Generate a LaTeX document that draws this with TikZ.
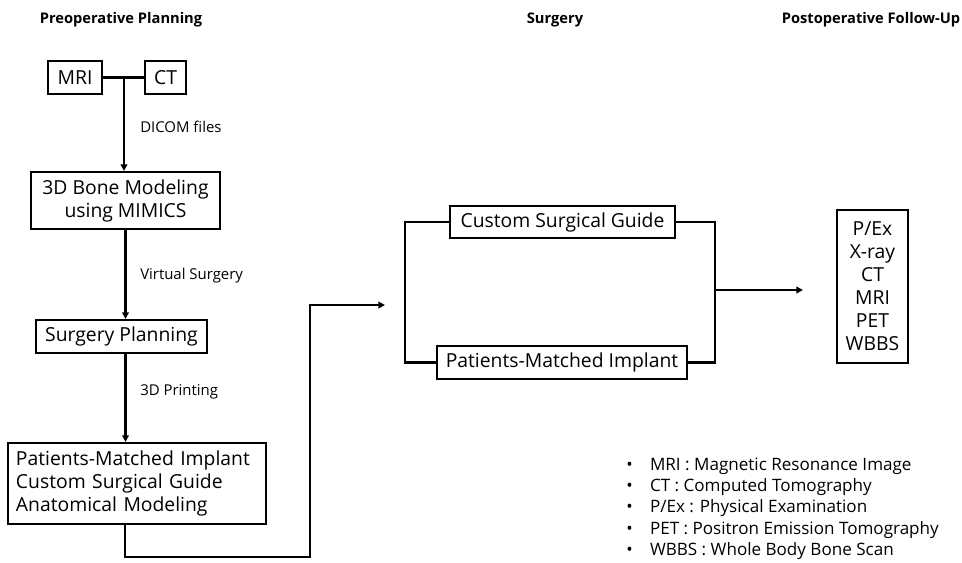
\documentclass[tikz,border=0pt]{standalone}
\usepackage{fontspec}
\setmainfont{Open Sans}
\usetikzlibrary{arrows.meta}
\begin{document}
\begin{tikzpicture}[x=0.75pt,y=-0.75pt,
  box/.style={draw,line width=1.6pt,inner sep=0pt,align=center,font=\fontsize{14.5}{17.25}\selectfont},
  arr/.style={line width=1.6pt,-{Triangle[length=5pt,width=5pt]}},
  conn/.style={line width=1.6pt},
  lbl/.style={anchor=west,inner sep=0pt,font=\fontsize{11.2}{13}\selectfont},
  ttl/.style={inner sep=0pt,font=\fontsize{11}{13}\selectfont\bfseries}]
\useasboundingbox (0,0) rectangle (962,562);
% titles
\node[ttl] (t1) at (121,20) {Preoperative Planning};
\node[ttl] (t2) at (555,20) {Surgery};
\node[ttl] (t3) at (871,20) {Postoperative Follow-Up};
% left column
\node[box,minimum width=40.5pt,minimum height=24.75pt] (mri) at (75,77.5) {MRI};
\node[box,minimum width=30.75pt,minimum height=24.75pt] (ct) at (165.5,77.5) {CT};
\node[box,minimum width=141.75pt,minimum height=42.75pt] (bone) at (125.5,200.5) {3D Bone Modeling\\using MIMICS};
\node[box,minimum width=128.25pt,minimum height=24.75pt] (sp) at (121.5,336.5) {Surgery Planning};
\node[box,minimum height=60.75pt,align=left,inner xsep=6pt,text width=181.5pt] (big) at (137,483.5) {Patients-Matched Implant\\Custom Surgical Guide\\Anatomical Modeling};
% labels
\node[lbl] (l1) at (140,127) {DICOM files};
\node[lbl] (l2) at (140,276) {Virtual Surgery};
\node[lbl] (l3) at (140,392) {3D Printing};
% surgery
\node[box,minimum width=168.75pt,minimum height=24pt] (csg) at (562.5,222) {Custom Surgical Guide};
\node[box,minimum width=187.5pt,minimum height=24.75pt] (pmi) at (562,362.5) {Patients-Matched Implant};
% follow up
\node[box,minimum width=53.25pt,minimum height=114.75pt] (fu) at (872.5,286.5) {P/Ex\\X-ray\\CT\\MRI\\PET\\WBBS};
% coordinates
\coordinate (j) at (124,77.5);
\coordinate (b1) at (125,524);
\coordinate (bl) at (310,557);
\coordinate (entry) at (385,305);
\coordinate (lx) at (405,0);
\coordinate (rx) at (715,0);
\coordinate (m) at (715,290);
\coordinate (tip) at (803,290);
% connectors
\draw[conn] (mri.east) -- (ct.west);
\draw[arr] (j) -- (j |- bone.north);
\draw[arr] (bone.south) -- (bone.south |- sp.north);
\draw[arr] (bone.south |- sp.south) -- (bone.south |- big.north);
\draw[arr] (b1) |- (bl) |- (entry);
\draw[conn] (csg.west) -- (csg.west -| lx) |- (pmi.west);
\draw[conn] (csg.east) -- (csg.east -| rx) |- (pmi.east);
\draw[arr] (m) -- (tip);
% legend
\node[anchor=north west,inner sep=0pt,font=\fontsize{12.8}{16}\selectfont] (leg) at (626,455) {%
\begin{tabular}{@{}l@{\hspace{13pt}}l@{}}
\textbullet & MRI : Magnetic Resonance Image\\
\textbullet & CT : Computed Tomography\\
\textbullet & P/Ex : Physical Examination\\
\textbullet & PET : Positron Emission Tomography\\
\textbullet & WBBS : Whole Body Bone Scan
\end{tabular}};
\end{tikzpicture}
\end{document}
